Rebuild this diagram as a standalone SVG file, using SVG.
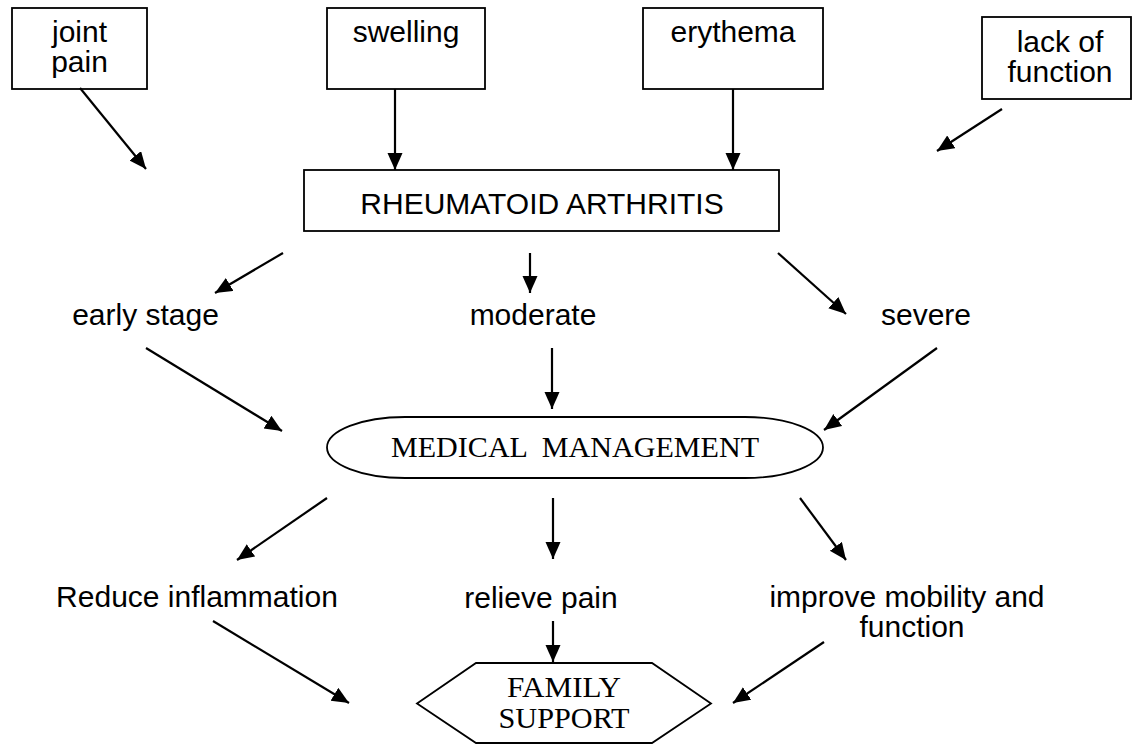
<svg xmlns="http://www.w3.org/2000/svg" width="1132" height="744" viewBox="0 0 1132 744">
<style>
.box{fill:#fff;stroke:#000;stroke-width:1.8}
.t{font-family:"Liberation Sans",Arial,sans-serif;font-size:30px;fill:#000;text-anchor:middle}
.s{font-family:"Liberation Serif","Times New Roman",serif;font-size:29px;fill:#000;text-anchor:middle;white-space:pre}
.c{stroke:#000;stroke-width:2.2;fill:none;marker-end:url(#ah)}
</style>
<defs>
<marker id="ah" markerUnits="userSpaceOnUse" markerWidth="18" markerHeight="16" refX="17" refY="7.5" orient="auto">
<path d="M0,0 L17,7.5 L0,15 z" fill="#000"/>
</marker>
</defs>
<rect width="1132" height="744" fill="#fff"/>
<g id="joint-pain"><rect class="box" x="12" y="8" width="135" height="81"/><text class="t" x="79.5" y="42">joint</text><text class="t" x="79.5" y="72">pain</text></g>
<g id="swelling"><rect class="box" x="327" y="8" width="158" height="81"/><text class="t" x="406" y="42">swelling</text></g>
<g id="erythema"><rect class="box" x="643" y="8" width="180" height="81"/><text class="t" x="733" y="42">erythema</text></g>
<g id="lack-of-function"><rect class="box" x="982" y="17" width="149" height="82"/><text class="t" x="1060" y="52">lack of</text><text class="t" x="1060" y="82">function</text></g>
<g id="rheumatoid-arthritis"><rect class="box" x="304" y="170" width="475" height="61"/><text class="t" x="542" y="214">RHEUMATOID ARTHRITIS</text></g>
<g id="early-stage"><text class="t" x="145.5" y="325">early stage</text></g>
<g id="moderate"><text class="t" x="533" y="325">moderate</text></g>
<g id="severe"><text class="t" x="926" y="325">severe</text></g>
<g id="medical-management"><rect class="box" x="327" y="417" width="496" height="61" rx="78" ry="30.5"/><text class="s" x="575" y="457" xml:space="preserve" textLength="368" lengthAdjust="spacingAndGlyphs">MEDICAL  MANAGEMENT</text></g>
<g id="reduce-inflammation"><text class="t" x="197" y="607">Reduce inflammation</text></g>
<g id="relieve-pain"><text class="t" x="541" y="608">relieve pain</text></g>
<g id="improve-mobility"><text class="t" x="907" y="607">improve mobility and</text><text class="t" x="912" y="637">function</text></g>
<g id="family-support"><polygon class="box" points="476,663 652,663 711,703.5 652,743 476,743 417,703.5"/><text class="s" x="564" y="697" textLength="114" lengthAdjust="spacingAndGlyphs">FAMILY</text><text class="s" x="564" y="728" textLength="131" lengthAdjust="spacingAndGlyphs">SUPPORT</text></g>
<g id="connectors">
<line class="c" x1="80" y1="88" x2="146" y2="169"/>
<line class="c" x1="395" y1="89" x2="395" y2="170"/>
<line class="c" x1="733" y1="89" x2="733" y2="170"/>
<line class="c" x1="1002" y1="109" x2="937" y2="151"/>
<line class="c" x1="283" y1="253" x2="215" y2="293"/>
<line class="c" x1="530" y1="253" x2="530" y2="293"/>
<line class="c" x1="778" y1="253" x2="846" y2="314"/>
<line class="c" x1="146" y1="348" x2="282" y2="431"/>
<line class="c" x1="552" y1="348" x2="552" y2="409"/>
<line class="c" x1="937" y1="348" x2="824" y2="430"/>
<line class="c" x1="327" y1="498" x2="237" y2="560"/>
<line class="c" x1="553" y1="498" x2="553" y2="559"/>
<line class="c" x1="800" y1="498" x2="846" y2="560"/>
<line class="c" x1="213" y1="621" x2="349" y2="703"/>
<line class="c" x1="553" y1="621" x2="553" y2="662"/>
<line class="c" x1="824" y1="642" x2="733" y2="703"/>
</g>
</svg>
